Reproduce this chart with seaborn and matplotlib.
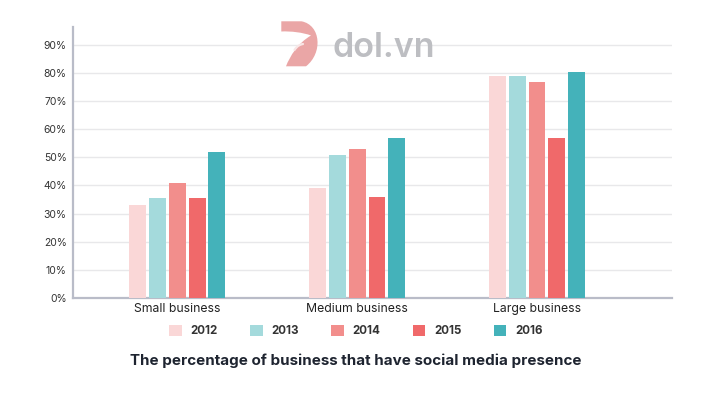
import matplotlib
matplotlib.use("Agg")
import matplotlib.pyplot as plt
from matplotlib.path import Path
from matplotlib.patches import PathPatch
from matplotlib.ticker import FuncFormatter
import seaborn as sns
import pandas as pd

categories = ["Small business", "Medium business", "Large business"]
years = ["2012", "2013", "2014", "2015", "2016"]
values_2012 = [33, 39, 79]
values_2013 = [35.5, 51, 79]
values_2014 = [41, 53, 77]
values_2015 = [35.5, 36, 57]
values_2016 = [52, 57, 80.5]
colors = ["#FAD7D7", "#A4DADC", "#F28E8C", "#F0696A", "#44B2BA"]
yticks = [0, 10, 20, 30, 40, 50, 60, 70, 80, 90]
title = "The percentage of business that have social media presence"

series = [values_2012, values_2013, values_2014, values_2015, values_2016]
rows = []
for y, vals in zip(years, series):
    for c, v in zip(categories, vals):
        rows.append({"category": c, "year": y, "value": v})
df = pd.DataFrame(rows)

sns.set_theme(style="white")
plt.rcParams["font.family"] = ["Inter", "DejaVu Sans"]

fig = plt.figure(figsize=(7.12, 4.01), dpi=100)
W, H = 712, 401
ax = fig.add_axes([73 / W, 1 - 297.7 / H, (672 - 73) / W, (297.7 - 27) / H])

sns.barplot(data=df, x="category", y="value", hue="year", order=categories,
            hue_order=years, palette=colors, width=0.55, gap=0.15,
            saturation=1, linewidth=0, edgecolor="none", ax=ax, zorder=3)

ax.set_xlim(-0.58, 2.75)
ax.set_ylim(0, 96.5)
ax.set_yticks(yticks)
ax.yaxis.set_major_formatter(FuncFormatter(lambda v, p: f"{int(v)}%"))
ax.set_xlabel("")
ax.set_ylabel("")
ax.grid(axis="y", color="#E8E8EA", linewidth=1.0, zorder=0)
ax.set_axisbelow(True)
for s in ["top", "right"]:
    ax.spines[s].set_visible(False)
for s in ["left", "bottom"]:
    ax.spines[s].set_color("#B9BCC8")
    ax.spines[s].set_linewidth(1.6)
ax.tick_params(axis="y", length=0, pad=4.5, labelsize=7.5, labelcolor="#333333")
ax.tick_params(axis="x", length=0, pad=4, labelsize=8.8, labelcolor="#222222")

handles, labels = ax.get_legend_handles_labels()
if ax.get_legend() is not None:
    ax.get_legend().remove()
leg = fig.legend(handles, labels, loc="center", bbox_to_anchor=(356 / W, 1 - 331 / H),
                 ncol=5, frameon=False, handlelength=1.1, handleheight=1.1,
                 handletextpad=0.75, columnspacing=2.8,
                 prop={"family": ["Inter", "DejaVu Sans"], "weight": "bold", "size": 8.3})
for t in leg.get_texts():
    t.set_color("#333333")

fig.text(356 / W, 1 - 361 / H, title, ha="center", va="center",
         fontsize=10.9, fontweight="bold", color="#1E2430")

# watermark logo
def px(x, y):
    return (x / W, 1 - y / H)

verts = [px(281.3, 21.3), px(301.5, 21.3),
         px(321, 25), px(323, 53), px(306, 66.3),
         px(286, 66.3),
         px(290, 56), px(298, 43), px(311, 35.5),
         px(303, 32.5), px(291, 31), px(281.3, 31.5),
         px(281.3, 21.3)]
codes = [Path.MOVETO, Path.LINETO,
         Path.CURVE4, Path.CURVE4, Path.CURVE4,
         Path.LINETO,
         Path.CURVE4, Path.CURVE4, Path.CURVE4,
         Path.CURVE4, Path.CURVE4, Path.CURVE4,
         Path.CLOSEPOLY]
logo = PathPatch(Path(verts, codes), transform=fig.transFigure,
                 facecolor="#EAA6A6", edgecolor="none", zorder=10)
fig.patches.append(logo)
hl_verts = [px(294.5, 50), px(297, 46), px(300, 44.5), px(303, 44)]
hl_codes = [Path.MOVETO, Path.CURVE4, Path.CURVE4, Path.CURVE4]
highlight = PathPatch(Path(hl_verts, hl_codes), transform=fig.transFigure,
                      facecolor="none", edgecolor="#F8E6E6", linewidth=1.6,
                      capstyle="round", zorder=11)
fig.patches.append(highlight)
fig.text(px(332, 0)[0], 1 - 57 / H, "dol.vn", ha="left", va="baseline",
         fontsize=24.5, fontweight="semibold", color="#BDBEC2", zorder=10)

fig.savefig("out.png", dpi=100)
